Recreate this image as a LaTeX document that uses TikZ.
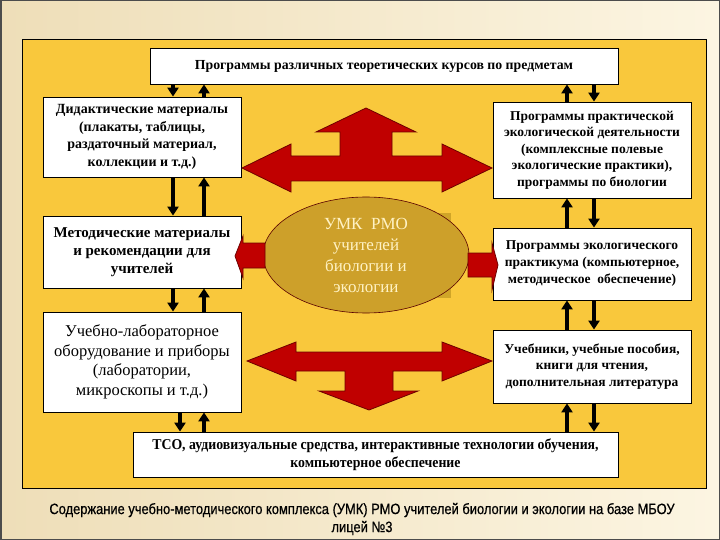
\documentclass[tikz,border=0pt]{standalone}
\usepackage{fontspec}
\setmainfont{Liberation Serif}
\newfontfamily\capfont[FakeStretch=0.86, FakeBold=0.6]{Liberation Sans}
\newfontfamily\tsofont[FakeStretch=0.92]{Liberation Serif}
\usetikzlibrary{arrows.meta, positioning, shapes.geometric, calc}
\definecolor{panelyellow}{RGB}{249,200,60}
\definecolor{bgcream}{RGB}{238,222,184}
\definecolor{bglight}{RGB}{252,245,226}
\definecolor{arrowred}{RGB}{192,0,0}
\definecolor{arrowdark}{RGB}{110,0,0}
\definecolor{umkgold}{RGB}{205,160,42}
\definecolor{umktext}{RGB}{255,242,196}

\begin{document}
\begin{tikzpicture}[x=1pt, y=-1pt,
    box/.style={draw=black, fill=white, rectangle, align=center, inner sep=2pt, line width=0.8pt},
    link/.style={line width=3.5pt, -{Triangle[length=9pt, width=11pt]}},
    bigarrow/.style={fill=arrowred, draw=arrowdark, line width=0.8pt}]
        \useasboundingbox (0,0) rectangle (720,540);
        % Background and panel
        \shade[left color=bgcream, right color=bglight] (0,0) rectangle (720,540);
        \draw[gray!60!black, line width=1.5pt] (0.75,0.75) rectangle (719.25,539.25);
        \fill[panelyellow] (22,39) rectangle (706,488);
        \draw[black, line width=0.8pt] (22,39) rectangle (706,488);

        % Boxes round the centre
        \node[box, minimum width=468, minimum height=36, font=\bfseries\fontsize{13.8}{16}\selectfont] (Top) at (384,66) {Программы различных теоретических курсов по предметам};
        \node[box, minimum width=198, minimum height=80, font=\bfseries\fontsize{14}{17.5}\selectfont] (L1) at (142,137) {Дидактические материалы\\(плакаты, таблицы,\\раздаточный материал,\\коллекции и т.д.)};
        \node[box, minimum width=198, minimum height=72, font=\bfseries\fontsize{15}{18}\selectfont] (L2) at (142,252) {Методические материалы\\и рекомендации для\\учителей};
        \node[box, minimum width=198, minimum height=100, font=\fontsize{16.5}{19.5}\selectfont] (L3) at (142,362) {Учебно-лабораторное\\оборудование и приборы\\(лаборатории,\\микроскопы и т.д.)};
        \node[box, minimum width=198, minimum height=96, font=\bfseries\fontsize{13.5}{16.5}\selectfont] (R1) at (592,150) {Программы практической\\экологической деятельности\\(комплексные полевые\\экологические практики),\\программы по биологии};
        \node[box, minimum width=198, minimum height=72, font=\bfseries\fontsize{13.5}{17}\selectfont] (R2) at (592,264) {Программы экологического\\практикума (компьютерное,\\методическое~~обеспечение)};
        \node[box, minimum width=198, minimum height=73, font=\bfseries\fontsize{13.5}{16.5}\selectfont] (R3) at (592,366.5) {Учебники, учебные пособия,\\книги для чтения,\\дополнительная литература};
        \node[box, minimum width=485, minimum height=45, font=\tsofont\bfseries\fontsize{15}{18}\selectfont] (Bot) at (375.5,454.5) {ТСО, аудиовизуальные средства, интерактивные технологии обучения,\\компьютерное обеспечение};

        % Centre ellipse
        \fill[umkgold!95!yellow] (300,213) rectangle (451,298);
        \node[ellipse, draw=arrowdark!80!black, fill=umkgold, line width=0.6pt, minimum width=206, minimum height=116, align=center, text=umktext, font=\fontsize{17}{21}\selectfont] (UMK) at (366,255) {УМК~~РМО\\учителей\\биологии и\\экологии};

        % Big red arrows
        \draw[bigarrow] (242,168) -- (291,144) -- (291,156) -- (340,156) -- (340,132) -- (316,132) -- (366,108) -- (416,132) -- (392,132) -- (392,156) -- (442,156) -- (442,144) -- (492,168) -- (442,192) -- (442,181) -- (291,181) -- (291,192) -- cycle;
        \draw[bigarrow] (247,361) -- (296,342) -- (296,352) -- (442,352) -- (442,342) -- (492,361) -- (442,381) -- (442,371) -- (393,371) -- (393,391) -- (418,391) -- (369,410) -- (319,391) -- (345,391) -- (345,371) -- (296,371) -- (296,381) -- cycle;
        \draw[bigarrow] (265,243) -- (243,243) -- (243,236) -- (235,256) -- (243,278) -- (243,268) -- (265,268) -- cycle;
        \draw[bigarrow] (468,253) -- (492,253) -- (492,243) -- (498,265) -- (492,290) -- (492,277) -- (468,277) -- cycle;

        % Black arrows, left column
        \coordinate (xa) at (173,0);
        \coordinate (xb) at (204,0);
        \coordinate (xc) at (180,0);
        \draw[link] (Top.south -| xa) -- (L1.north -| xa);
        \draw[link] (L1.north -| xb) -- (Top.south -| xb);
        \draw[link] (L1.south -| xa) -- (L2.north -| xa);
        \draw[link] (L2.north -| xb) -- (L1.south -| xb);
        \draw[link] (L2.south -| xa) -- (L3.north -| xa);
        \draw[link] (L3.north -| xb) -- (L2.south -| xb);
        \draw[link] (L3.south -| xc) -- (Bot.north -| xc);
        \draw[link] (Bot.north -| xb) -- (L3.south -| xb);

        % Black arrows, right column
        \coordinate (xd) at (567,0);
        \coordinate (xe) at (594,0);
        \draw[link] (R1.north -| xd) -- (Top.south -| xd);
        \draw[link] (Top.south -| xe) -- (R1.north -| xe);
        \draw[link] (R2.north -| xd) -- (R1.south -| xd);
        \draw[link] (R1.south -| xe) -- (R2.north -| xe);
        \draw[link] (R3.north -| xd) -- (R2.south -| xd);
        \draw[link] (R2.south -| xe) -- (R3.north -| xe);
        \draw[link] (Bot.north -| xd) -- (R3.south -| xd);
        \draw[link] (R3.south -| xe) -- (Bot.north -| xe);

        % Caption
        \node[align=center, font=\capfont\fontsize{15}{18}\selectfont] (Cap) at (362,519) {Содержание учебно-методического комплекса (УМК) РМО учителей биологии и экологии на базе МБОУ\\лицей №3};
    \end{tikzpicture}
\end{document}
